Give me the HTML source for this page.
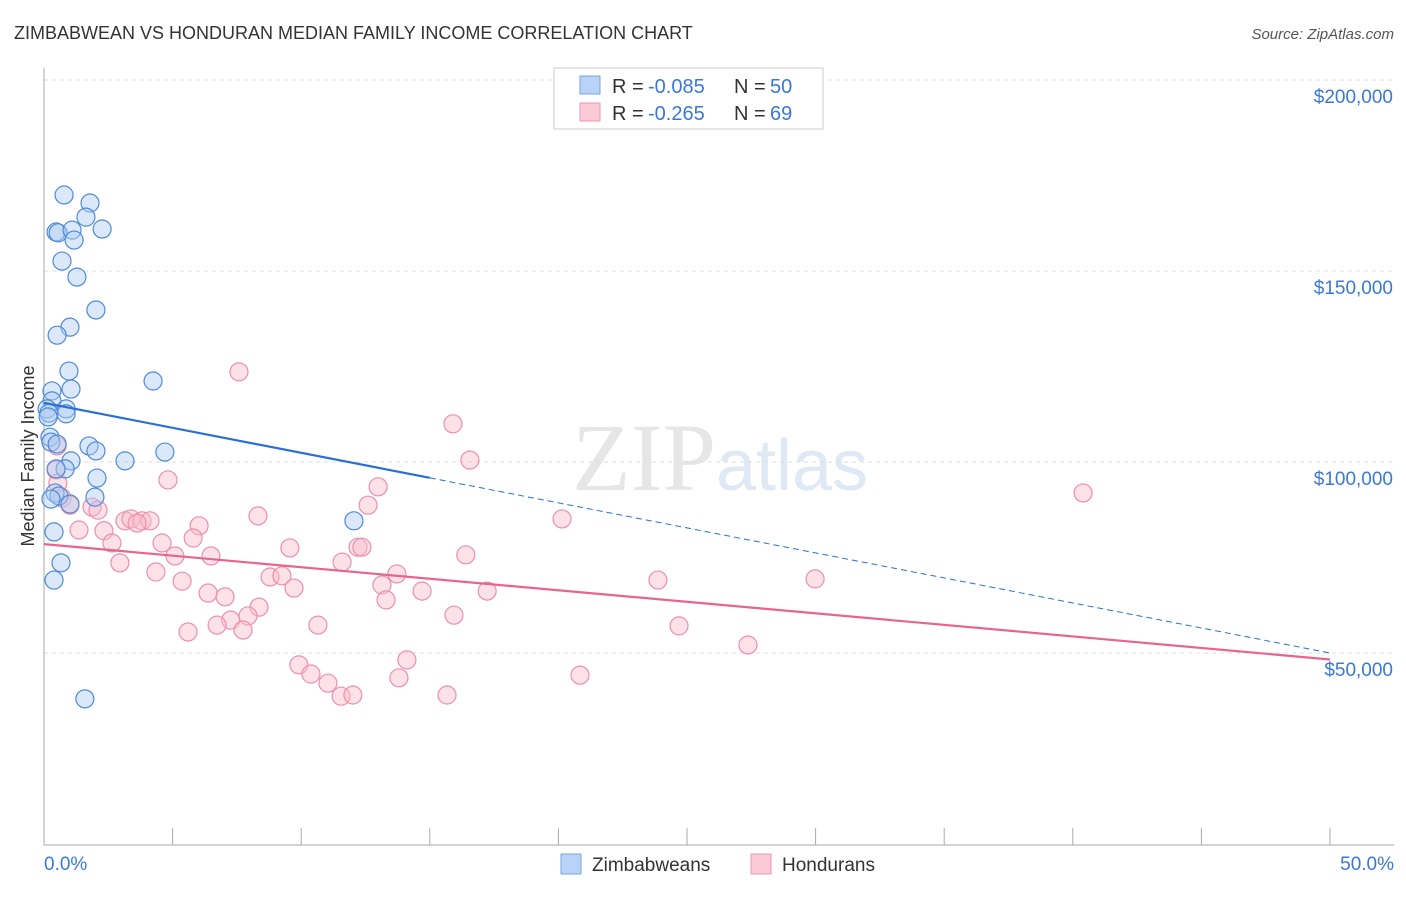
<!DOCTYPE html>
<html><head><meta charset="utf-8"><style>
body{margin:0;background:#fff;font-family:"Liberation Sans",sans-serif;}
</style></head><body>
<svg id="chart" width="1406" height="892" xmlns="http://www.w3.org/2000/svg" font-family="Liberation Sans, sans-serif">
<text x="14" y="39" font-size="18" fill="#333">ZIMBABWEAN VS HONDURAN MEDIAN FAMILY INCOME CORRELATION CHART</text>
<text x="1394" y="39" font-size="15" fill="#555" text-anchor="end" font-style="italic">Source: ZipAtlas.com</text>
<text x="720" y="490" font-size="96" text-anchor="middle" fill="#e6e6e6" font-family="Liberation Serif, serif">ZIP<tspan fill="#dfe8f5" font-family="Liberation Sans, sans-serif" font-size="72">atlas</tspan></text>
<g id="grid"></g>
<g id="axes"></g>
<g id="marks"></g>
<text transform="translate(34,456) rotate(-90)" font-size="18" text-anchor="middle" fill="#333">Median Family Income</text>
<g>
<rect x="554" y="68" width="269" height="61" fill="#fff" stroke="#ccc"/>
<rect x="580" y="76" width="20" height="18" fill="#b8d3f5" stroke="#7aa6e0"/>
<rect x="580" y="103" width="20" height="18" fill="#fbc9d7" stroke="#f096b0"/>
<text x="612" y="93" font-size="20" fill="#333">R =</text>
<text x="648" y="93" font-size="20" fill="#3a78d8">-0.085</text>
<text x="734" y="93" font-size="20" fill="#333">N =</text>
<text x="770" y="93" font-size="20" fill="#3a78d8">50</text>
<text x="612" y="120" font-size="20" fill="#333">R =</text>
<text x="648" y="120" font-size="20" fill="#3a78d8">-0.265</text>
<text x="734" y="120" font-size="20" fill="#333">N =</text>
<text x="770" y="120" font-size="20" fill="#3a78d8">69</text>
</g>
<g>
<rect x="561" y="854" width="20" height="20" fill="#b8d3f5" stroke="#7aa6e0"/>
<text x="592" y="871" font-size="19" fill="#333">Zimbabweans</text>
<rect x="751" y="854" width="20" height="20" fill="#fbc9d7" stroke="#f096b0"/>
<text x="782" y="871" font-size="19" fill="#333">Hondurans</text>
</g>
</svg>
<script>
const yTicks=[50000,100000,150000,200000];
const yTickLabels=["$50,000","$100,000","$150,000","$200,000"];
const xTickLabels=["0.0%","50.0%"];
const zimX=[0.78,1.79,1.63,0.47,0.55,1.09,2.26,1.17,0.7,1.28,2.02,1.01,0.51,0.97,4.24,0.31,1.05,0.31,0.12,0.86,0.86,0.19,0.23,0.27,0.51,1.75,2.02,4.7,3.15,1.05,0.82,0.47,2.06,0.43,0.58,1.98,0.27,1.01,12.05,0.39,0.66,0.39,1.59,0.16];
const zimY=[169900,167800,164100,160200,160000,160700,161000,158100,152600,148400,139800,135300,133200,123800,121200,118600,119100,116000,113900,113900,112600,112800,106500,105200,104700,104200,102900,102600,100300,100300,98200,98200,95800,91900,91100,90800,90300,89000,84600,81700,73600,69100,38000,111800];
const honX=[7.58,15.9,16.56,40.4,4.82,12.99,0.51,0.47,0.54,0.7,1.01,1.87,2.1,12.6,8.32,20.14,3.15,3.38,3.81,4.12,3.62,6.03,2.33,1.36,2.64,4.59,5.8,9.56,12.21,12.36,5.09,6.49,16.4,2.95,11.59,4.35,13.72,8.79,9.25,23.87,29.98,5.37,13.14,9.72,6.38,14.7,17.23,7.04,13.3,8.36,7.93,15.94,7.26,6.73,10.65,24.69,5.6,7.74,27.37,14.11,9.91,10.38,20.84,13.8,11.04,11.55,12.01,15.67];
const honY=[123600,110000,100500,91900,95300,93500,104200,97900,94500,90600,88700,88200,87400,88700,85900,85100,84600,85100,84600,84600,84000,83300,82000,82200,78800,78800,80100,77500,77700,77700,75400,75400,75700,73600,73800,71200,70700,69900,70200,69100,69400,68800,67800,67000,65700,66200,66200,64700,63900,62000,59700,59900,58600,57300,57300,57100,55500,56000,52100,48200,46900,44500,44200,43500,42100,38700,39000,39000];
const zimTrend=[115500,50000];
const honTrend=[78500,48300];
const NS="http://www.w3.org/2000/svg";
const xs=v=>44+v/50*1286;
const ys=v=>80+(200000-v)/1000*3.82;
function mk(tag,attrs,parent){const e=document.createElementNS(NS,tag);for(const k in attrs)e.setAttribute(k,attrs[k]);document.getElementById(parent).appendChild(e);return e;}
yTicks.forEach((t,i)=>{
 const l=mk('line',{x1:44,x2:1394,y1:ys(t),y2:ys(t),stroke:'#ddd','stroke-dasharray':'4,4'},'grid');
 
 
 const tx=mk('text',{x:1393,y:ys(t)+23,'font-size':19,fill:'#3a78d8','text-anchor':'end'},'axes');
 tx.textContent=yTickLabels[i];
 
 
});
mk('line',{x1:44,x2:44,y1:68,y2:845,stroke:'#aaa'},'axes');
mk('line',{x1:44,x2:1394,y1:845,y2:845,stroke:'#aaa'},'axes');
for(let i=0;i<=10;i++){const x=xs(i*5);const t=mk('line',{x1:x,x2:x,y1:828,y2:845,stroke:'#aaa'},'axes');}
[[0,44,'start'],[50,1394,'end']].forEach((d,i)=>{const t=mk('text',{x:d[1],y:870,'font-size':19,fill:'#3a78d8','text-anchor':d[2]},'axes');t.textContent=xTickLabels[i];});
function dots(X,Y,fill,stroke,name){X.forEach((x,i)=>{const c=mk('circle',{cx:xs(x),cy:ys(Y[i]),r:9,fill:fill,'fill-opacity':0.45,stroke:stroke,'stroke-width':1.2},'marks');});}
dots(honX,honY,'#f8bccd','#ee8fac','honduran-point');
dots(zimX,zimY,'#aecbf2','#4f8ad8','zimbabwean-point');
const zs=(zimTrend[1]-zimTrend[0])/50;
let l=mk('line',{x1:xs(0),y1:ys(zimTrend[0]),x2:xs(15),y2:ys(zimTrend[0]+zs*15),stroke:'#2a6fd6','stroke-width':2.2},'marks');


l=mk('line',{x1:xs(15),y1:ys(zimTrend[0]+zs*15),x2:xs(50),y2:ys(zimTrend[1]),stroke:'#2a6fd6','stroke-width':1,'stroke-dasharray':'6,4'},'marks');


l=mk('line',{x1:xs(0),y1:ys(honTrend[0]),x2:xs(50),y2:ys(honTrend[1]),stroke:'#e8648e','stroke-width':2.2},'marks');


</script>
</body></html>
